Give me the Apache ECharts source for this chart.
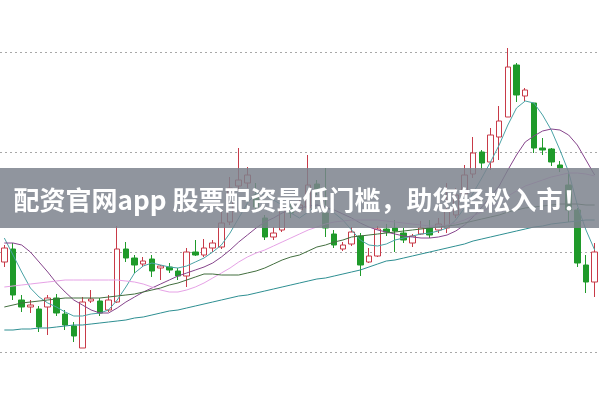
<!DOCTYPE html>
<html>
<head>
<meta charset="utf-8">
<script src="https://cdn.jsdelivr.net/npm/echarts@6/dist/echarts.min.js"></script>
<style>
html,body{margin:0;padding:0;background:#fff;}
#chart{width:599px;height:399px;}
</style>
</head>
<body>
<div id="chart"></div>
<script>
// Categories (trading days, 69 candles)
const categories = Array.from({length: 69}, (_, i) => 'D' + (i + 1));

// Candles: [open, close, low, high]
const candles = [
  [10.90,11.04,10.85,11.07],[11.03,10.57,10.52,11.09],[10.52,10.45,10.40,10.57],[10.45,10.47,10.39,10.52],
  [10.43,10.25,10.20,10.46],[10.45,10.54,10.17,10.57],[10.54,10.39,10.36,10.58],[10.38,10.27,10.22,10.42],
  [10.26,10.16,10.10,10.30],[10.04,10.50,10.04,10.55],[10.51,10.53,10.49,10.62],[10.51,10.39,10.36,10.54],
  [10.42,10.52,10.40,10.57],[10.50,11.03,10.49,11.26],[11.03,10.94,10.90,11.10],[10.94,10.87,10.79,10.97],
  [10.88,10.91,10.85,10.95],[10.93,10.81,10.75,10.97],[10.84,10.86,10.72,10.87],[10.85,10.82,10.79,10.89],
  [10.81,10.76,10.72,10.84],[10.76,11.00,10.65,11.04],[11.00,10.97,10.96,11.12],[10.97,11.04,10.95,11.13],
  [11.04,11.09,11.00,11.12],[11.05,11.29,11.03,11.40],[11.30,11.64,11.27,11.75],[11.66,11.72,11.62,12.04],
  [11.69,11.77,11.64,11.85],[11.57,11.45,11.42,11.69],[11.34,11.15,11.12,11.37],[11.15,11.19,11.12,11.25],
  [11.22,11.44,11.20,11.52],[11.44,11.39,11.34,11.49],[11.42,11.47,11.39,11.52],[11.44,11.67,11.42,11.97],
  [11.68,11.63,11.57,11.72],[11.39,11.24,11.15,11.84],[11.18,11.07,11.04,11.22],[11.03,11.07,11.01,11.10],
  [11.08,11.20,11.06,11.25],[11.16,10.87,10.76,11.19],[10.90,10.96,10.89,11.04],[10.96,11.23,10.95,11.26],
  [11.23,11.20,11.16,11.28],[11.24,11.21,11.00,11.32],[11.19,11.12,11.09,11.24],[11.09,11.16,11.05,11.18],
  [11.18,11.24,11.17,11.31],[11.24,11.17,11.14,11.32],[11.22,11.28,11.19,11.34],[11.24,11.42,11.19,11.69],
  [11.37,11.57,11.34,11.64],[11.58,11.77,11.56,11.87],[11.78,11.99,11.74,12.15],[12.00,11.89,11.82,12.02],
  [11.90,12.17,11.82,12.24],[12.15,12.31,11.92,12.46],[12.35,12.85,12.35,13.04],[12.87,12.57,12.50,12.89],
  [12.56,12.62,12.51,12.64],[12.49,12.04,11.99,12.49],[12.04,12.02,11.97,12.14],[12.03,11.90,11.86,12.04],
  [11.87,11.84,11.80,11.91],[11.67,11.42,11.30,11.80],[11.42,10.89,10.85,11.44],[10.87,10.70,10.59,10.97],
  [10.70,11.00,10.55,11.09]
];

const ma5 = [11.14,10.97,10.80,10.64,10.55,10.49,10.45,10.40,10.36,10.36,10.38,10.39,10.42,10.52,10.65,10.79,10.86,10.89,10.87,10.85,
  10.84,10.86,10.90,10.94,11.00,11.07,11.19,11.34,11.49,11.59,11.57,11.52,11.47,11.39,11.34,11.40,11.47,11.45,11.39,11.32,
  11.22,11.12,11.07,11.06,11.08,11.12,11.14,11.16,11.18,11.19,11.21,11.24,11.32,11.44,11.59,11.74,11.90,12.07,12.27,12.44,
  12.51,12.49,12.37,12.22,12.02,11.80,11.47,11.22,11.02];
const ma10 = [11.09,11.09,11.07,11.00,10.90,10.80,10.69,10.60,10.52,10.47,10.42,10.39,10.39,10.44,10.50,10.55,10.60,10.64,10.68,10.72,
  10.76,10.79,10.82,10.85,10.89,10.95,11.02,11.10,11.17,11.24,11.30,11.34,11.39,11.42,11.44,11.46,11.47,11.45,11.42,11.38,
  11.34,11.29,11.25,11.22,11.20,11.18,11.16,11.15,11.14,11.14,11.15,11.17,11.21,11.27,11.35,11.45,11.55,11.66,11.82,11.97,
  12.10,12.16,12.21,12.23,12.22,12.17,12.07,11.92,11.77];
const ma20 = [10.65,10.66,10.67,10.68,10.69,10.70,10.71,10.72,10.72,10.72,10.72,10.72,10.72,10.72,10.71,10.70,10.68,10.65,10.62,10.60,
  10.60,10.62,10.65,10.69,10.74,10.79,10.84,10.90,10.95,10.99,11.02,11.06,11.10,11.14,11.18,11.22,11.25,11.28,11.30,11.31,
  11.32,11.32,11.32,11.32,11.31,11.30,11.29,11.28,11.27,11.26,11.26,11.27,11.29,11.32,11.36,11.40,11.45,11.50,11.56,11.61,
  11.66,11.69,11.72,11.75,11.77,11.79,11.79,11.78,11.76];
const ma30 = [10.45,10.47,10.49,10.50,10.51,10.52,10.53,10.54,10.54,10.54,10.54,10.54,10.55,10.56,10.57,10.58,10.60,10.62,10.64,10.67,
  10.69,10.72,10.75,10.78,10.78,10.77,10.77,10.77,10.79,10.81,10.84,10.88,10.92,10.95,10.97,11.01,11.05,11.07,11.10,11.12,
  11.15,11.16,11.17,11.18,11.19,11.20,11.21,11.22,11.23,11.24,11.25,11.26,11.27,11.29,11.31,11.33,11.35,11.37,11.40,11.42,
  11.44,11.45,11.46,11.47,11.48,11.48,11.48,11.47,11.47];
const ma60 = [10.22,10.22,10.23,10.23,10.24,10.24,10.25,10.26,10.27,10.27,10.28,10.29,10.30,10.31,10.32,10.34,10.35,10.37,10.39,10.41,
  10.42,10.44,10.46,10.48,10.50,10.52,10.54,10.56,10.57,10.59,10.61,10.63,10.65,10.67,10.69,10.71,10.73,10.74,10.76,10.78,
  10.80,10.82,10.85,10.88,10.91,10.92,10.94,10.96,10.98,11.00,11.02,11.04,11.06,11.08,11.11,11.13,11.15,11.17,11.19,11.21,
  11.23,11.25,11.26,11.28,11.29,11.30,11.31,11.32,11.32];

const bannerText = '配资官网app 股票配资最低门槛，助您轻松入市！';

const chart = echarts.init(document.getElementById('chart'), null, {renderer: 'canvas'});

function maSeries(name, data, color) {
  return {
    name: name, type: 'line', data: data, showSymbol: false, smooth: false, clip: false,
    lineStyle: {color: color, width: 1}, itemStyle: {color: color}, silent: true, z: 3
  };
}

chart.setOption({
  animation: false,
  backgroundColor: '#ffffff',
  grid: {left: 0, top: 52, width: 603, bottom: 47, containLabel: false},
  xAxis: {
    type: 'category', data: categories, boundaryGap: true,
    axisLine: {show: false}, axisTick: {show: false}, axisLabel: {show: false}, splitLine: {show: false}
  },
  yAxis: {
    type: 'value', min: 10, max: 13, interval: 1,
    axisLine: {show: false}, axisTick: {show: false}, axisLabel: {show: false},
    splitLine: {show: true, lineStyle: {color: '#a8a8a8', type: [2, 3], width: 1}}
  },
  series: [
    {
      name: 'K', type: 'candlestick', data: candles, barWidth: 6, clip: false, z: 2,
      itemStyle: {
        color: '#ffffff', color0: '#1f9a2a',
        borderColor: '#c83a48', borderColor0: '#1f9a2a', borderWidth: 1
      }
    },
    maSeries('MA5', ma5, '#4aa3a6'),
    maSeries('MA10', ma10, '#86458c'),
    maSeries('MA20', ma20, '#e6a2e6'),
    maSeries('MA30', ma30, '#436f3f'),
    maSeries('MA60', ma60, '#2e8f92')
  ],
  graphic: [
    {
      type: 'rect', left: 0, top: 168, z: 100,
      shape: {width: 599, height: 60},
      style: {fill: 'rgba(124,131,141,0.85)'}
    },
    {
      type: 'text', z: 101, x: 301, y: 200,
      style: {
        text: bannerText, fill: '#ffffff',
        font: 'bold 26px "Noto Sans CJK SC", "Noto Sans", sans-serif',
        textAlign: 'center', textVerticalAlign: 'middle'
      }
    }
  ]
});
</script>
</body>
</html>
